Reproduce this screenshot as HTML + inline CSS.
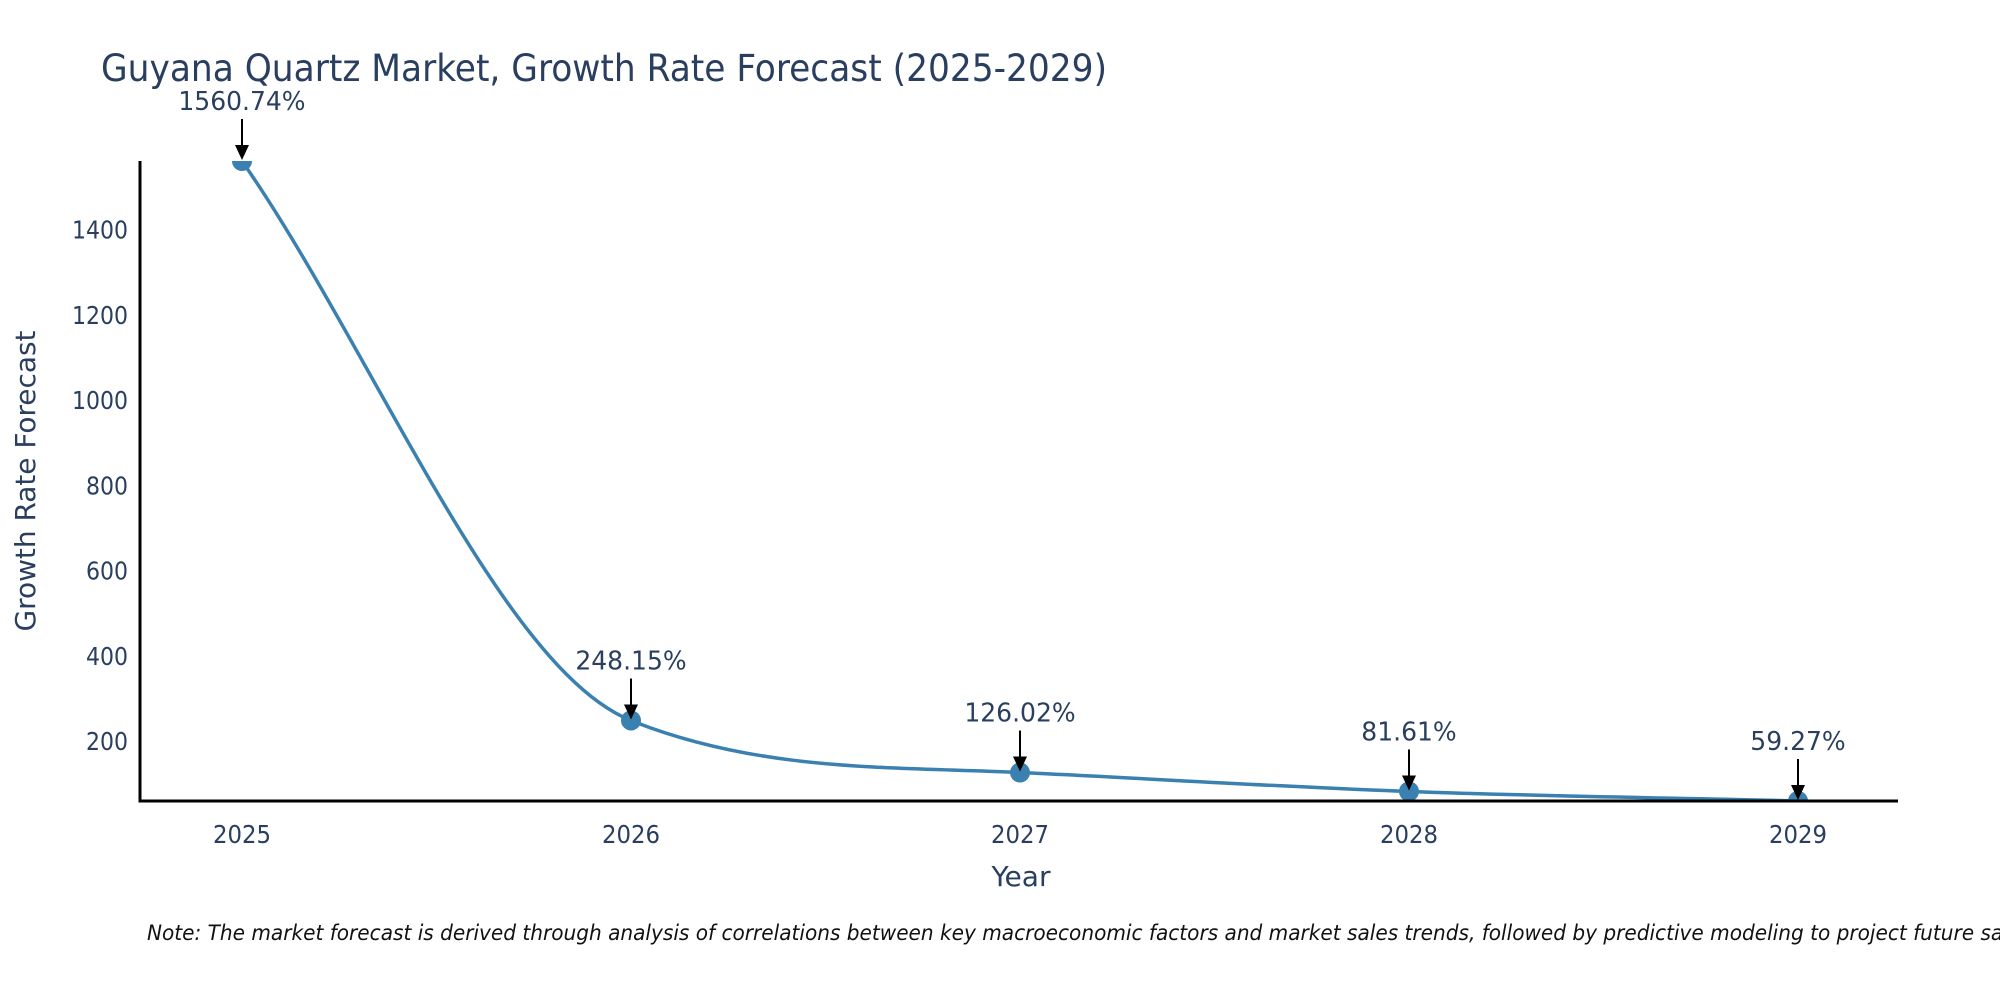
<!DOCTYPE html>
<html><head><meta charset="utf-8"><style>
html,body{margin:0;padding:0;background:#fff;width:2000px;height:1000px;overflow:hidden}
svg{display:block;font-family:"DejaVu Sans Condensed","DejaVu Sans","Liberation Sans",sans-serif}
</style></head><body>
<svg id="chart" width="2000" height="1000" viewBox="0 0 2000 1000">
<text x="101" y="81" font-size="37" fill="#2a3f5f" textLength="1006" lengthAdjust="spacingAndGlyphs">Guyana Quartz Market, Growth Rate Forecast (2025-2029)</text>
<g id="plot"></g>
<text x="1021" y="886" font-size="28" fill="#2a3f5f" text-anchor="middle" textLength="59" lengthAdjust="spacingAndGlyphs">Year</text>
<text transform="translate(35,481) rotate(-90)" font-size="28" fill="#2a3f5f" text-anchor="middle" textLength="301" lengthAdjust="spacingAndGlyphs">Growth Rate Forecast</text>
<text x="147" y="940" font-size="21" font-style="italic" fill="#111" textLength="1891" lengthAdjust="spacingAndGlyphs">Note: The market forecast is derived through analysis of correlations between key macroeconomic factors and market sales trends, followed by predictive modeling to project future sales.</text>
</svg>
<script>
const categories = ["2025","2026","2027","2028","2029"];
const values = [1560.74, 248.15, 126.02, 81.61, 59.27];
const labels = ["1560.74%","248.15%","126.02%","81.61%","59.27%"];
const yTicks = [200,400,600,800,1000,1200,1400];

const NS="http://www.w3.org/2000/svg";
const g=document.getElementById('plot');
const L=140,R=1898,T=161,B=801;
const yMin=Math.min(...values), yMax=Math.max(...values);
const x0=242, dx=389;
function xs(i){return x0+i*dx;}
function ys(v){return B-(v-yMin)/(yMax-yMin)*(B-T);}
function mk(tag,attrs){const e=document.createElementNS(NS,tag);for(const k in attrs)e.setAttribute(k,attrs[k]);g.appendChild(e);return e;}

yTicks.forEach(v=>{
  const t=mk('text',{x:L-12,y:ys(v)+9,'font-size':25,fill:'#2a3f5f','text-anchor':'end',textLength:String(v).length*14,lengthAdjust:'spacingAndGlyphs'});
  t.textContent=v;
  
  
});
categories.forEach((c,i)=>{
  const t=mk('text',{x:xs(i),y:B+42,'font-size':25,fill:'#2a3f5f','text-anchor':'middle',textLength:58,lengthAdjust:'spacingAndGlyphs'});
  t.textContent=c;
  
  
});

// monotone cubic spline
const pts=values.map((v,i)=>[xs(i),ys(v)]);
const n=pts.length, m=[];
const sl=[];for(let i=0;i<n-1;i++)sl.push((pts[i+1][1]-pts[i][1])/(pts[i+1][0]-pts[i][0]));
m[0]=sl[0];m[n-1]=sl[n-2];
for(let i=1;i<n-1;i++){m[i]=(sl[i-1]*sl[i]<=0)?0:(sl[i-1]+sl[i])/2;}
for(let i=0;i<n-1;i++){if(sl[i]===0){m[i]=m[i+1]=0;continue;}const a=m[i]/sl[i],b=m[i+1]/sl[i],h=a*a+b*b;if(h>9){const t=3/Math.sqrt(h);m[i]=t*a*sl[i];m[i+1]=t*b*sl[i];}}
let d=`M${pts[0][0]},${pts[0][1]}`;
for(let i=0;i<n-1;i++){
  const h=(pts[i+1][0]-pts[i][0])/3;
  d+=` C${pts[i][0]+h},${pts[i][1]+m[i]*h} ${pts[i+1][0]-h},${pts[i+1][1]-m[i+1]*h} ${pts[i+1][0]},${pts[i+1][1]}`;
}
const clip=mk('clipPath',{id:'pc'});
const cr=document.createElementNS(NS,'rect');cr.setAttribute('x',L);cr.setAttribute('y',T);cr.setAttribute('width',R-L);cr.setAttribute('height',B-T);clip.appendChild(cr);
const line=mk('path',{d:d,fill:'none',stroke:'#3a80b0','stroke-width':3.5,'clip-path':'url(#pc)'});


pts.forEach((p,i)=>{
  const c=mk('circle',{cx:p[0],cy:p[1],r:10,fill:'#3a80b0','clip-path':'url(#pc)'});
  
  
});
const ya=mk('line',{x1:L,y1:T,x2:L,y2:B+1.5,stroke:'#000','stroke-width':3});


const xa=mk('line',{x1:L-1.5,y1:B,x2:R,y2:B,stroke:'#000','stroke-width':3});


pts.forEach((p,i)=>{
  const a=mk('line',{x1:p[0],y1:p[1]-42,x2:p[0],y2:p[1]-14,stroke:'#000','stroke-width':2});
  
  
  const h=mk('polygon',{points:`${p[0]-7},${p[1]-16} ${p[0]+7},${p[1]-16} ${p[0]},${p[1]-1}`,fill:'#000'});
  
  
  const t=mk('text',{x:p[0],y:p[1]-51,'font-size':26,fill:'#2a3f5f','text-anchor':'middle',textLength:labels[i].length*15.9,lengthAdjust:'spacingAndGlyphs'});
  t.textContent=labels[i];
  
  
});
</script>
</body></html>
